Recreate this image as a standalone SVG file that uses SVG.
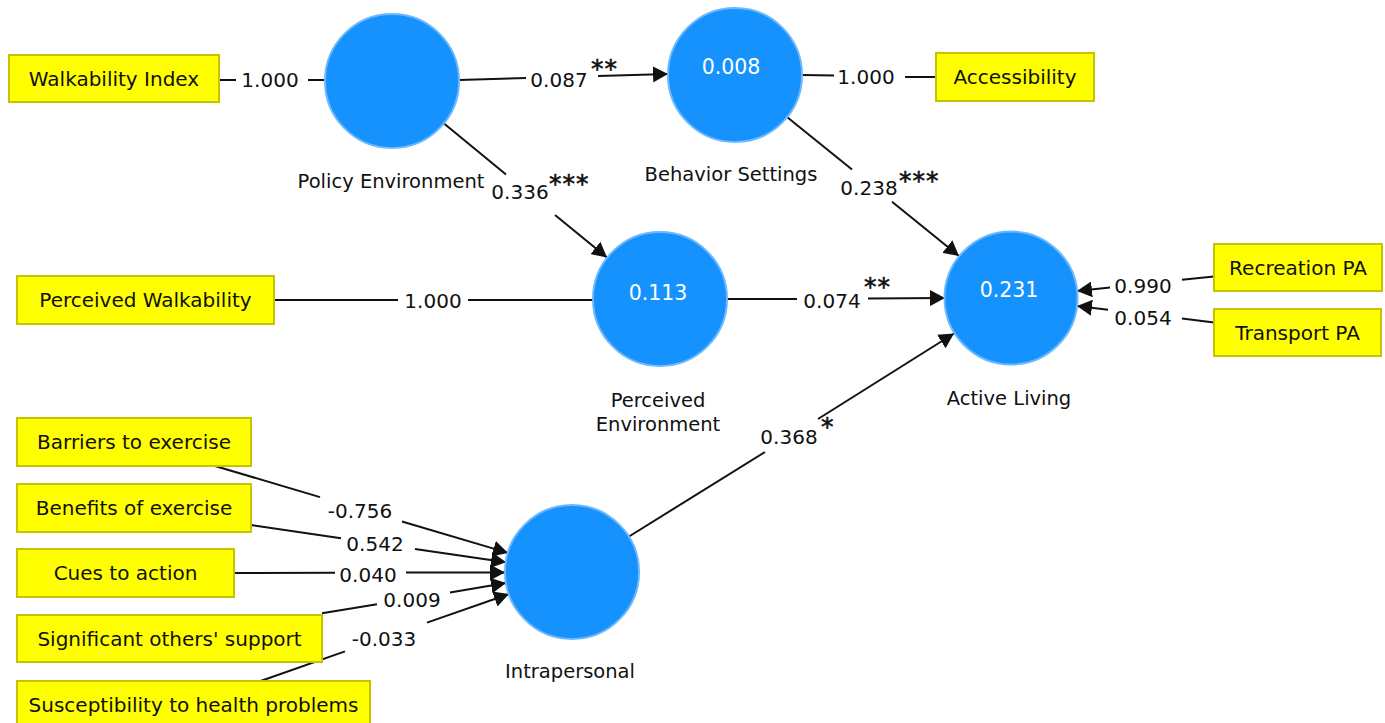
<svg xmlns="http://www.w3.org/2000/svg" width="1385" height="723" viewBox="0 0 1385 723">
<style>
  .ind rect { fill: #ffff00; stroke: #c4c400; stroke-width: 2; }
  .ind text { font-family: "DejaVu Sans", "Liberation Sans", sans-serif; font-size: 20px; fill: #111; text-anchor: middle; }
  .lv circle { fill: #1592fe; stroke: #6cb8ff; stroke-width: 2; }
  .lv text { font-family: "DejaVu Sans", "Liberation Sans", sans-serif; font-size: 19.5px; fill: #111; text-anchor: middle; }
  .lv text.val { fill: #ffffff; font-size: 20.5px; }
  .conn line { stroke: #111; stroke-width: 2; fill: none; }
  .conn line.a { marker-end: url(#arr); }
  .conn text { font-family: "DejaVu Sans", "Liberation Sans", sans-serif; font-size: 20px; fill: #111; text-anchor: middle; }
  .conn text.st { font-size: 25px; font-weight: normal; letter-spacing: 1px; text-anchor: start; stroke: #111; stroke-width: 0.6; }
</style>
<defs>
  <marker id="arr" markerUnits="userSpaceOnUse" markerWidth="15" markerHeight="16" viewBox="0 0 15 16" refX="15" refY="8" orient="auto">
    <path d="M0,0 L15,8 L0,16 Z" fill="#111"/>
  </marker>
</defs>
<rect width="1385" height="723" fill="#ffffff"/>

<g id="connectors" class="conn">
  <!-- Walkability Index - Policy Environment -->
  <line x1="219" y1="80" x2="236" y2="80"/>
  <line x1="308" y1="80" x2="325" y2="80"/>
  <text x="270" y="87">1.000</text>
  <!-- Policy -> Behavior -->
  <line x1="459" y1="80" x2="526" y2="78.1"/>
  <line class="a" x1="598" y1="76" x2="668" y2="74"/>
  <text x="559" y="87">0.087</text>
  <text class="st" x="591" y="77">**</text>
  <!-- Policy -> Perceived Environment -->
  <line x1="444" y1="123.5" x2="506" y2="174.5"/>
  <line class="a" x1="555" y1="215" x2="607" y2="257.5"/>
  <text x="520" y="199">0.336</text>
  <text class="st" x="549" y="191.5">***</text>
  <!-- Behavior -> Active Living -->
  <line x1="787" y1="117" x2="852" y2="169.5"/>
  <line class="a" x1="892" y1="201.8" x2="959" y2="256"/>
  <text x="869" y="195">0.238</text>
  <text class="st" x="899" y="188.5">***</text>
  <!-- Behavior - Accessibility -->
  <line x1="802" y1="75" x2="834" y2="75.5"/>
  <line x1="905" y1="77" x2="936" y2="77"/>
  <text x="866" y="84">1.000</text>
  <!-- Perceived Walkability - Perceived Environment -->
  <line x1="274" y1="300" x2="398" y2="300"/>
  <line x1="468" y1="300" x2="593" y2="300"/>
  <text x="433" y="308">1.000</text>
  <!-- Perceived Environment -> Active Living -->
  <line x1="727" y1="299" x2="797" y2="299"/>
  <line class="a" x1="868" y1="298.5" x2="945" y2="298"/>
  <text x="832" y="308">0.074</text>
  <text class="st" x="864" y="294.5">**</text>
  <!-- Intrapersonal -> Active Living -->
  <line x1="629" y1="536.5" x2="765" y2="452"/>
  <line class="a" x1="818" y1="419" x2="954" y2="333.5"/>
  <text x="789" y="444">0.368</text>
  <text class="st" x="821" y="434.6">*</text>
  <!-- Recreation PA -> Active Living -->
  <line x1="1214" y1="276.4" x2="1182" y2="279.8"/>
  <line class="a" x1="1110" y1="287.5" x2="1077" y2="291"/>
  <text x="1143" y="293">0.990</text>
  <!-- Transport PA -> Active Living -->
  <line x1="1214" y1="322.4" x2="1182" y2="318.6"/>
  <line class="a" x1="1108" y1="309.7" x2="1077" y2="306"/>
  <text x="1143" y="325">0.054</text>
  <!-- Barriers -> Intrapersonal -->
  <line x1="215" y1="466" x2="320" y2="497.1"/>
  <line class="a" x1="402" y1="521.5" x2="508" y2="552.9"/>
  <text x="360" y="518">-0.756</text>
  <!-- Benefits -> Intrapersonal -->
  <line x1="251" y1="525.1" x2="341" y2="538.3"/>
  <line class="a" x1="415" y1="549.1" x2="506" y2="562.3"/>
  <text x="375" y="551">0.542</text>
  <!-- Cues -> Intrapersonal -->
  <line x1="234" y1="573" x2="335" y2="572.8"/>
  <line class="a" x1="406" y1="572.6" x2="505" y2="572.4"/>
  <text x="368" y="582">0.040</text>
  <!-- Significant others -> Intrapersonal -->
  <line x1="322" y1="613.3" x2="377" y2="604.3"/>
  <line class="a" x1="450" y1="592.4" x2="506" y2="583"/>
  <text x="412" y="607">0.009</text>
  <!-- Susceptibility -> Intrapersonal -->
  <line x1="260.6" y1="681" x2="345" y2="651.4"/>
  <line class="a" x1="427" y1="622.6" x2="509" y2="594"/>
  <text x="384" y="646">-0.033</text>
</g>

<g id="walkability-index" class="ind"><rect x="9" y="55" width="210" height="47"/><text x="114" y="86">Walkability Index</text></g>
<g id="accessibility" class="ind"><rect x="936" y="53" width="158" height="48"/><text x="1015" y="84">Accessibility</text></g>
<g id="perceived-walkability" class="ind"><rect x="17" y="276" width="257" height="48"/><text x="145.5" y="307">Perceived Walkability</text></g>
<g id="recreation-pa" class="ind"><rect x="1214" y="244" width="168" height="47"/><text x="1298" y="274.5">Recreation PA</text></g>
<g id="transport-pa" class="ind"><rect x="1214" y="309" width="167" height="47"/><text x="1297.5" y="339.5">Transport PA</text></g>
<g id="barriers" class="ind"><rect x="17" y="418" width="234" height="48"/><text x="134" y="449">Barriers to exercise</text></g>
<g id="benefits" class="ind"><rect x="17" y="484" width="234" height="48"/><text x="134" y="515">Benefits of exercise</text></g>
<g id="cues" class="ind"><rect x="17" y="549" width="217" height="48"/><text x="125.5" y="580">Cues to action</text></g>
<g id="significant-others" class="ind"><rect x="17" y="615" width="305" height="47"/><text x="169.5" y="645.5">Significant others' support</text></g>
<g id="susceptibility" class="ind"><rect x="17" y="681" width="353" height="47"/><text x="193.5" y="712">Susceptibility to health problems</text></g>

<g id="policy-environment" class="lv"><circle cx="392" cy="81" r="67"/><text x="391" y="188">Policy Environment</text></g>
<g id="behavior-settings" class="lv"><circle cx="735" cy="75" r="67"/><text class="val" x="731" y="74">0.008</text><text x="731" y="181">Behavior Settings</text></g>
<g id="perceived-environment" class="lv"><circle cx="660" cy="299" r="67"/><text class="val" x="658" y="300">0.113</text><text x="658" y="407">Perceived</text><text x="658" y="431">Environment</text></g>
<g id="active-living" class="lv"><circle cx="1011" cy="298" r="66.5"/><text class="val" x="1009" y="297">0.231</text><text x="1009" y="405">Active Living</text></g>
<g id="intrapersonal" class="lv"><circle cx="572" cy="572" r="67"/><text x="570" y="678">Intrapersonal</text></g>
</svg>
